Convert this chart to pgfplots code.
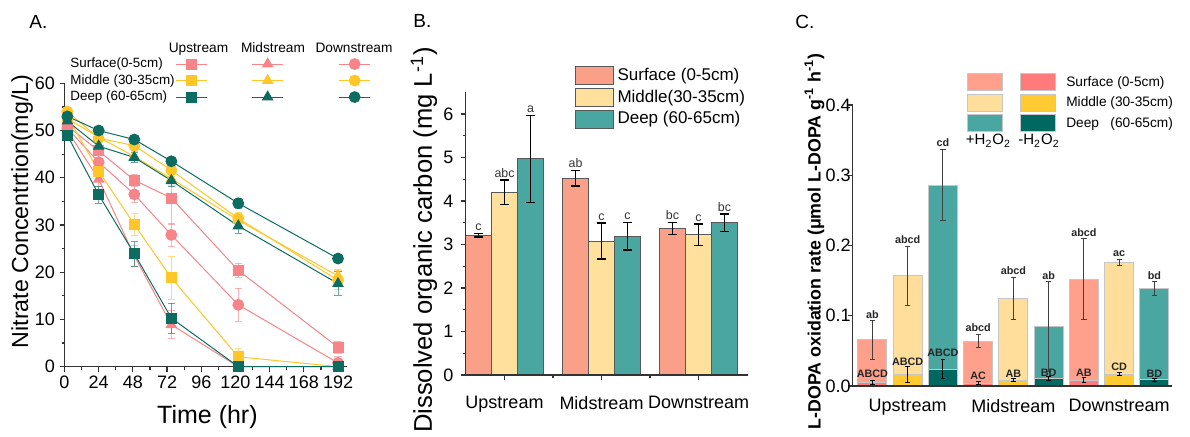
\documentclass[border=0pt]{standalone}
\usepackage{fontspec}
\setmainfont{Liberation Sans}
\usepackage{pgfplots}
\usepackage{pgfplotstable}
\pgfplotsset{compat=1.18}

\definecolor{aS}{RGB}{246,132,136}
\definecolor{aM}{RGB}{255,198,40}
\definecolor{aD}{RGB}{12,108,98}
\definecolor{bS}{RGB}{250,160,136}
\definecolor{bM}{RGB}{255,224,156}
\definecolor{bD}{RGB}{74,166,160}
\definecolor{cSl}{RGB}{255,160,140}
\definecolor{cMl}{RGB}{255,222,156}
\definecolor{cDl}{RGB}{74,166,160}
\definecolor{cSd}{RGB}{255,122,122}
\definecolor{cMd}{RGB}{255,202,50}
\definecolor{cDd}{RGB}{0,104,96}

% A: nitrate over time
\pgfplotstableread{
t   US   USe  UM   UMe  UD   UDe  MS   MSe  MM   MMe  MD   MDe  DS   DSe  DM   DMe  DD   DDe
2   51.0 1.0  53.0 1.0  49.0 1.0  50.0 1.0  52.5 1.0  52.0 1.0  50.5 1.0  54.0 1.0  53.0 1.0
24  45.7 1.5  41.4 2.0  36.4 1.8  39.7 1.5  48.6 1.0  46.7 1.0  43.3 1.5  48.4 1.0  50.0 0.8
49  39.5 1.3  30.1 2.3  23.9 2.6  23.5 2.2  44.5 1.0  44.3 1.0  36.5 1.8  46.8 1.0  48.1 0.8
75  35.7 5.5  18.8 4.5  10.3 3.2   8.9 3.0  39.8 1.5  39.4 1.3  27.9 2.5  41.6 1.3  43.5 0.8
122 20.4 1.5   2.1 1.7   0.0 0.3   0.0 0.3  31.0 1.5  29.8 1.5  13.1 3.5  31.4 1.3  34.6 1.0
192  4.1 1.2   0.0 0.3   0.0 0.0   0.0 0.0  19.2 1.5  17.6 2.5   0.8 1.3  18.3 2.0  22.9 0.8
}\nitrate

% B: DOC (x = bar centre)
\pgfplotstableread{
x y e lab
-0.268 3.21 0.04 c
0.732 4.52 0.18 ab
1.732 3.37 0.14 bc
}\BS
\pgfplotstableread{
x y e lab
0 4.20 0.28 abc
1 3.08 0.41 c
2 3.22 0.25 c
}\BM
\pgfplotstableread{
x y e lab
0.268 4.97 1.00 a
1.268 3.19 0.32 c
2.268 3.50 0.20 bc
}\BD

% C: L-DOPA oxidation, +H2O2 (light) and -H2O2 (dark)
\pgfplotstableread{
x y e lab
0 0.0655 0.0275 ab
3 0.064 0.0098 abcd
6 0.152 0.0575 abcd
}\CSl
\pgfplotstableread{
x y e lab
1 0.1566 0.042 abcd
4 0.1248 0.0297 abcd
7 0.176 0.004 ac
}\CMl
\pgfplotstableread{
x y e lab
2 0.286 0.051 cd
5 0.0845 0.064 ab
8 0.139 0.0095 bd
}\CDl
\pgfplotstableread{
x y e
0 0.005 0.003
3 0.004 0.002
6 0.0085 0.004
}\CSd
\pgfplotstableread{
x y e
1 0.0157 0.0114
4 0.008 0.002
7 0.017 0.0025
}\CMd
\pgfplotstableread{
x y e
2 0.0242 0.0135
5 0.011 0.0025
8 0.009 0.002
}\CDd
\pgfplotstableread{
x y lab
0 0.0118 ABCD
1 0.0289 ABCD
2 0.0417 ABCD
3 0.0095 AC
4 0.0128 AB
5 0.0142 BD
6 0.0142 AB
7 0.0223 CD
8 0.0128 BD
}\Cup

\pgfplotsset{
  panel/.style={
    scale only axis, clip=false, enlargelimits=false,
    axis x line*=bottom, axis y line*=left,
    tick align=outside,
    axis line style={black!80, line width=0.6pt},
    every tick/.style={black!80, line width=0.6pt},
    major tick length=2.5pt, minor tick length=1.5pt,
    /pgf/number format/assume math mode=true,
    tick label style={font=\fontsize{9}{10}\selectfont},
  },
  nser/.style={line width=0.5pt, mark options={solid},
    error bars/.cd, y dir=both, y explicit,
    error bar style={line width=0.4pt, opacity=0.6},
    error mark options={rotate=90, mark size=1.8pt, line width=0.4pt, opacity=0.6}},
  boxlegB/.style={legend image code/.code={\draw[##1] (0pt,-4.5pt) rectangle (19pt,4.5pt);}},
  boxlegC/.style={legend image code/.code={\draw[##1] (0pt,-4.25pt) rectangle (17.5pt,4.25pt);}},
  linelegA/.style={legend image code/.code={\draw[mark repeat=2,mark phase=2,##1] plot coordinates {(0pt,0pt) (7.75pt,0pt) (15.5pt,0pt)};}},
  barB/.style={ybar, bar width=0.268, bar shift=0, draw=black!65, line width=0.5pt, boxlegB,
    error bars/.cd, y dir=both, y explicit, error bar style={black, line width=0.7pt},
    error mark options={rotate=90, black, mark size=2.4pt, line width=0.7pt}},
  letB/.style={draw=none, mark=none, forget plot, nodes near coords, point meta=explicit symbolic,
    every node near coord/.append style={anchor=base, yshift=1.5pt, inner sep=0pt, black!80, font=\fontsize{6.2}{7}\selectfont}},
  barCl/.style={ybar, bar width=0.82, bar shift=0, draw=gray!45, line width=0.5pt, boxlegC,
    error bars/.cd, y dir=both, y explicit, error bar style={black!75, line width=0.5pt},
    error mark options={rotate=90, black!75, mark size=1.3pt, line width=0.5pt}},
  barCd/.style={ybar, bar width=0.82, bar shift=0, draw=gray!45, line width=0.5pt, boxlegC,
    error bars/.cd, y dir=both, y explicit, error bar style={black, line width=0.5pt},
    error mark options={rotate=90, black, mark size=1.2pt, line width=0.5pt}},
  letC/.style={draw=none, mark=none, forget plot, nodes near coords, point meta=explicit symbolic,
    every node near coord/.append style={anchor=base, yshift=#1, inner sep=0pt, black!85, font=\bfseries\fontsize{5.4}{6}\selectfont}},
}

\begin{document}
\begin{tikzpicture}[x=1pt,y=1pt]
\useasboundingbox (0,0) rectangle (595,218);

% ---------------- A ----------------
\begin{axis}[panel, at={(32.25pt,34.65pt)}, anchor=south west,
  width=141.25pt, height=141.7pt,
  xmin=0, xmax=198.3, ymin=0, ymax=60,
  xtick={0,24,...,192}, ytick={0,10,...,60},
  minor x tick num=1, minor y tick num=1,
  xlabel={Time (hr)}, ylabel={Nitrate Concentrtion(mg/L)},
  xlabel style={at={(axis description cs:0.506,-0.1764)}, anchor=center, font=\fontsize{12.5}{14}\selectfont},
  ylabel style={at={(axis description cs:-0.1504,0.548)}, anchor=center, font=\fontsize{11.6}{13}\selectfont},
  xticklabel style={yshift=1.35pt}, yticklabel style={xshift=1.25pt},
  linelegA,
  legend columns=3, legend plot pos=right,
  legend style={at={(0.0195,1.093)}, anchor=north west, draw=none, fill=none, inner sep=0pt,
    font=\fontsize{6.7}{7.5}\selectfont, cells={anchor=west},
    nodes={inner sep=0pt, text height=5.2pt, text depth=1.5pt},
    row sep=1.55pt, column sep=0pt},
]
\addplot[aS, mark=square*, mark size=2.5pt, nser] table[x=t, y=US, y error=USe] {\nitrate};
\addlegendentry{Surface(0-5cm)\hspace*{0.5pt}}
\addplot[aS, mark=triangle*, mark size=2.9pt, nser] table[x=t, y=MS, y error=MSe] {\nitrate};
\addlegendentry{\hspace*{22pt}}
\addplot[aS, mark=*, mark size=2.7pt, nser] table[x=t, y=DS, y error=DSe] {\nitrate};
\addlegendentry{\hspace*{27.5pt}}
\addplot[aM, mark=square*, mark size=2.5pt, nser] table[x=t, y=UM, y error=UMe] {\nitrate};
\addlegendentry{Middle (30-35cm)\hspace*{0.5pt}}
\addplot[aM, mark=triangle*, mark size=2.9pt, nser] table[x=t, y=MM, y error=MMe] {\nitrate};
\addlegendentry{\hspace*{22pt}}
\addplot[aM, mark=*, mark size=2.7pt, nser] table[x=t, y=DM, y error=DMe] {\nitrate};
\addlegendentry{\hspace*{27.5pt}}
\addplot[aD, mark=square*, mark size=2.5pt, nser] table[x=t, y=UD, y error=UDe] {\nitrate};
\addlegendentry{Deep (60-65cm)\hspace*{0.5pt}}
\addplot[aD, mark=triangle*, mark size=2.9pt, nser] table[x=t, y=MD, y error=MDe] {\nitrate};
\addlegendentry{\hspace*{22pt}}
\addplot[aD, mark=*, mark size=2.7pt, nser] table[x=t, y=DD, y error=DDe] {\nitrate};
\addlegendentry{\hspace*{27.5pt}}
\end{axis}

% ---------------- B ----------------
\begin{axis}[panel, axis on top, at={(232.75pt,30.5pt)}, anchor=south west,
  width=141.1pt, height=141.4pt,
  xmin=-0.402, xmax=2.507, ymin=0, ymax=6.5,
  xtick={0,1,2}, xticklabels={Upstream,Midstream,Downstream},
  extra x ticks={0.5,1.5}, extra x tick labels={},
  extra x tick style={major tick length=1.5pt},
  ytick={0,1,...,6}, minor y tick num=1,
  ylabel={Dissolved organic carbon (mg L\textsuperscript{-1})},
  ylabel style={at={(axis description cs:-0.147,0.477)}, anchor=center, font=\fontsize{12.8}{14}\selectfont},
  xticklabel style={yshift=-4.5pt},
  legend columns=1,
  legend style={at={(0.385,1.0928)}, anchor=north west, draw=none, fill=none, inner sep=0pt,
    font=\fontsize{8.5}{9.5}\selectfont, cells={anchor=west},
    nodes={inner sep=0pt, text height=6.4pt, text depth=1.9pt},
    row sep=1.4pt, column sep=0pt},
]
\addplot[fill=bS, barB] table[x=x, y=y, y error=e] {\BS};
\addlegendentry{\hspace*{2pt}Surface (0-5cm)}
\addplot[fill=bM, barB] table[x=x, y=y, y error=e] {\BM};
\addlegendentry{\hspace*{2pt}Middle(30-35cm)}
\addplot[fill=bD, barB] table[x=x, y=y, y error=e] {\BD};
\addlegendentry{\hspace*{2pt}Deep (60-65cm)}
% significance letters
\addplot[letB] table[x=x, y expr=\thisrow{y}+\thisrow{e}, meta=lab] {\BS};
\addplot[letB] table[x=x, y expr=\thisrow{y}+\thisrow{e}, meta=lab] {\BM};
\addplot[letB] table[x=x, y expr=\thisrow{y}+\thisrow{e}, meta=lab] {\BD};
\end{axis}

% ---------------- C ----------------
\begin{axis}[panel, axis on top, at={(426.35pt,25pt)}, anchor=south west,
  width=159.5pt, height=140.5pt,
  xmin=-0.56, xmax=8.49, ymin=0, ymax=0.4,
  xtick={1,4,7}, xticklabels={Upstream,Midstream,Downstream},
  x tick style={draw=none},
  ytick={0,0.1,0.2,0.3,0.4},
  y tick label style={/pgf/number format/fixed, /pgf/number format/fixed zerofill, /pgf/number format/precision=1},
  yticklabel style={xshift=5pt}, xticklabel style={yshift=-0.5pt},
  ylabel={\bfseries L-DOPA oxidation rate (μmol L-DOPA g\textsuperscript{-1} h\textsuperscript{-1})},
  ylabel style={at={(axis description cs:-0.1197,0.514)}, anchor=center, font=\fontsize{8.9}{10}\selectfont},
  legend columns=2,
  legend style={at={(0.358,1.114)}, anchor=north west, draw=none, fill=none, inner sep=0pt,
    font=\fontsize{6.85}{7.8}\selectfont, cells={anchor=west},
    nodes={inner sep=0pt, text height=5.2pt, text depth=1.5pt},
    row sep=1.25pt, column sep=0pt},
]
\addplot[fill=cSl, barCl] table[x=x, y=y, y error=e] {\CSl};
\addlegendentry{\hspace*{8.5pt}}
\addplot[fill=cSd, barCd] table[x=x, y=y, y error=e] {\CSd};
\addlegendentry{\hspace*{5pt}Surface (0-5cm)}
\addplot[fill=cMl, barCl] table[x=x, y=y, y error=e] {\CMl};
\addlegendentry{\hspace*{8.5pt}}
\addplot[fill=cMd, barCd] table[x=x, y=y, y error=e] {\CMd};
\addlegendentry{\hspace*{5pt}Middle (30-35cm)}
\addplot[fill=cDl, barCl] table[x=x, y=y, y error=e] {\CDl};
\addlegendentry{\hspace*{8.5pt}}
\addplot[fill=cDd, barCd] table[x=x, y=y, y error=e] {\CDd};
\addlegendentry{\hspace*{5pt}Deep\ \ \ (60-65cm)}
% letters above the +H2O2 error bars
\addplot[letC=1.3pt] table[x=x, y expr=\thisrow{y}+\thisrow{e}, meta=lab] {\CSl};
\addplot[letC=1.3pt] table[x=x, y expr=\thisrow{y}+\thisrow{e}, meta=lab] {\CMl};
\addplot[letC=1.3pt] table[x=x, y expr=\thisrow{y}+\thisrow{e}, meta=lab] {\CDl};
% letters for the -H2O2 bars
\addplot[letC=0pt] table[x=x, y=y, meta=lab] {\Cup};
\end{axis}

% headers, panel letters
\node[anchor=base, font=\fontsize{6.85}{7.5}\selectfont] at (99.25,191.8) {Upstream};
\node[anchor=base, font=\fontsize{6.85}{7.5}\selectfont] at (136.5,191.8) {Midstream};
\node[anchor=base, font=\fontsize{6.85}{7.5}\selectfont] at (177,191.8) {Downstream};
\node[anchor=base, font=\fontsize{7.5}{8.5}\selectfont] at (494.2,145.7) {+H\textsubscript{2}O\textsubscript{2}};
\node[anchor=base, font=\fontsize{7.5}{8.5}\selectfont] at (519.5,145.7) {-H\textsubscript{2}O\textsubscript{2}};
\node[anchor=base west, inner sep=0pt, font=\fontsize{9.5}{11}\selectfont] at (14.5,203.8) {A.};
\node[anchor=base west, inner sep=0pt, font=\fontsize{9.5}{11}\selectfont] at (206.5,204.3) {B.};
\node[anchor=base west, inner sep=0pt, font=\fontsize{9.5}{11}\selectfont] at (397.5,203.8) {C.};
\end{tikzpicture}
\end{document}
